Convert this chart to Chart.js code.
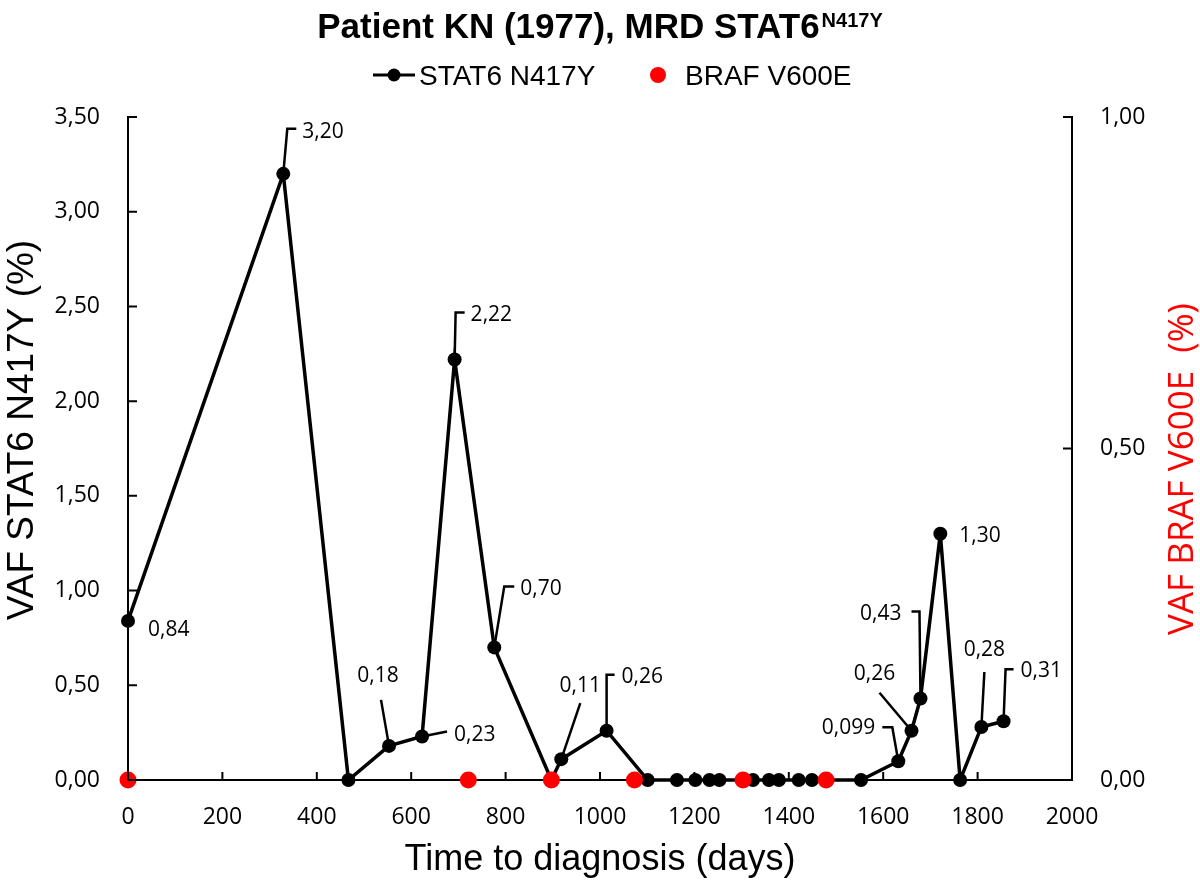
<!DOCTYPE html>
<html>
<head>
<meta charset="utf-8">
<script src="https://cdn.jsdelivr.net/npm/chart.js@4.4.1/dist/chart.umd.min.js"></script>
<style>
  html, body { margin: 0; padding: 0; background: #fff; }
  #wrap { width: 1200px; height: 885px; }
</style>
</head>
<body>
<div id="wrap"><canvas id="c" width="1200" height="885"></canvas></div>
<script>
// ---- data ----
const stat6Days = [0, 329, 467, 553, 623, 692, 776, 897, 918, 1014, 1101, 1163, 1202, 1232, 1253, 1324, 1358, 1379, 1421, 1449, 1553, 1632, 1660, 1679, 1721, 1763, 1808, 1855];
const stat6Vaf  = [0.84, 3.20, 0, 0.18, 0.23, 2.22, 0.70, 0, 0.11, 0.26, 0, 0, 0, 0, 0, 0, 0, 0, 0, 0, 0, 0.099, 0.26, 0.43, 1.30, 0, 0.28, 0.31];
const brafDays  = [0, 721, 897, 1073, 1303, 1479];
const brafVaf   = [0, 0, 0, 0, 0, 0];
const xTicks    = [0, 200, 400, 600, 800, 1000, 1200, 1400, 1600, 1800, 2000];
const yTicks    = [0, 0.5, 1.0, 1.5, 2.0, 2.5, 3.0, 3.5];
const y2Ticks   = [0, 0.5, 1.0];
const titleMain = 'Patient KN (1977), MRD STAT6';
const titleSup  = 'N417Y';
const seriesNames = ['STAT6 N417Y', 'BRAF V600E'];
const xTitle = 'Time to diagnosis (days)';
const yTitle = 'VAF STAT6 N417Y (%)';
const y2Title = 'VAF BRAF V600E  (%)';

// ---- label layout (pixel offsets from each point; style only) ----
const labelLayout = {
  0:  { dx: 20, dy: 9, align: 'left' },
  1:  { lead: [[0,0],[4,-45],[13,-45]], dx: 19, dy: -42, align: 'left' },
  3:  { lead: [[0,0],[-8,-46]], dx: -11, dy: -70, align: 'center' },
  4:  { lead: [[0,0],[25,-5]], dx: 32, dy: -1, align: 'left' },
  5:  { lead: [[0,0],[1,-47],[10,-47]], dx: 16, dy: -44, align: 'left' },
  6:  { lead: [[0,0],[10,-61],[20,-61]], dx: 26, dy: -58, align: 'left' },
  8:  { lead: [[0,0],[19,-56]], dx: 19, dy: -73, align: 'center' },
  9:  { lead: [[0,0],[0,-56],[8,-56]], dx: 15, dy: -54, align: 'left' },
  21: { lead: [[0,0],[-6,-34],[-16,-34]], dx: -23, dy: -33, align: 'right' },
  22: { lead: [[0,0],[-32,-38]], dx: -37, dy: -57, align: 'center' },
  23: { lead: [[0,0],[-1,-87],[-9,-87]], dx: -19, dy: -85, align: 'right' },
  24: { dx: 19, dy: 2, align: 'left' },
  26: { lead: [[0,0],[3,-55]], dx: 3, dy: -77, align: 'center' },
  27: { lead: [[0,0],[2,-52],[10,-52]], dx: 17, dy: -50, align: 'left' }
};

function fmt(v) {
  return v.toFixed(v > 0 && v < 0.1 ? 3 : 2).replace('.', ',');
}

const tickFont = { family: 'Open Sans', size: 23 };

const decor = {
  id: 'decor',
  afterDatasetsDraw(chart) {
    const ctx = chart.ctx;
    const dsIndex = chart.data.datasets.findIndex(d => d.label === seriesNames[0]);
    const meta = chart.getDatasetMeta(dsIndex);
    ctx.save();
    ctx.strokeStyle = '#000';
    ctx.fillStyle = '#000';
    ctx.lineWidth = 2.5;
    ctx.font = '21px "Open Sans"';
    ctx.textBaseline = 'middle';
    Object.keys(labelLayout).forEach(k => {
      const i = +k, L = labelLayout[k];
      const p = meta.data[i];
      if (!p) return;
      if (L.lead) {
        ctx.beginPath();
        L.lead.forEach((q, j) => {
          if (j === 0) ctx.moveTo(p.x + q[0], p.y + q[1]);
          else ctx.lineTo(p.x + q[0], p.y + q[1]);
        });
        ctx.stroke();
      }
      ctx.textAlign = L.align;
      ctx.fillText(fmt(stat6Vaf[i]), p.x + L.dx, p.y + L.dy);
    });
    ctx.restore();
  },
  afterDraw(chart) {
    const ctx = chart.ctx;
    const a = chart.chartArea;
    const sx = chart.scales.x, sy = chart.scales.y, sy2 = chart.scales.y2;
    ctx.save();
    // inward tick marks
    ctx.strokeStyle = '#000';
    ctx.lineWidth = 2;
    ctx.beginPath();
    xTicks.forEach(v => { const x = sx.getPixelForValue(v); ctx.moveTo(x, a.bottom); ctx.lineTo(x, a.bottom - 8); });
    yTicks.forEach(v => { const y = sy.getPixelForValue(v); ctx.moveTo(a.left, y); ctx.lineTo(a.left + 9, y); });
    y2Ticks.forEach(v => { const y = sy2.getPixelForValue(v); ctx.moveTo(a.right, y); ctx.lineTo(a.right - 9, y); });
    ctx.stroke();

    // title
    ctx.fillStyle = '#000';
    ctx.textBaseline = 'alphabetic';
    ctx.textAlign = 'left';
    const fMain = 'bold 35px "Liberation Sans"';
    const fSup = 'bold 20px "Liberation Sans"';
    ctx.font = fMain; const w1 = ctx.measureText(titleMain).width;
    ctx.font = fSup; const w2 = ctx.measureText(titleSup).width;
    const tx = 600 - (w1 + w2 + 2) / 2;
    ctx.font = fMain; ctx.fillText(titleMain, tx, 38);
    ctx.font = fSup; ctx.fillText(titleSup, tx + w1 + 2, 27);

    // legend
    ctx.lineWidth = 3;
    ctx.beginPath(); ctx.moveTo(373, 75); ctx.lineTo(415, 75); ctx.stroke();
    ctx.beginPath(); ctx.arc(394, 75, 6.5, 0, Math.PI * 2); ctx.fill();
    ctx.font = '28px "Liberation Sans"';
    ctx.fillText(seriesNames[0], 419, 85);
    ctx.fillStyle = '#ff0000';
    ctx.beginPath(); ctx.arc(658, 75, 8, 0, Math.PI * 2); ctx.fill();
    ctx.fillStyle = '#000';
    ctx.fillText(seriesNames[1], 685, 85);

    // x title
    ctx.textAlign = 'center';
    ctx.font = '36px "Liberation Sans"';
    ctx.fillText(xTitle, 600, 870);

    // left y title
    ctx.save();
    ctx.translate(33, 430);
    ctx.rotate(-Math.PI / 2);
    ctx.font = '37px "Liberation Sans"';
    ctx.fillText(yTitle, 0, 0);
    ctx.restore();

    // right y title
    ctx.save();
    ctx.translate(1193, 469);
    ctx.rotate(-Math.PI / 2);
    ctx.font = '35px "Open Sans"';
    ctx.fillStyle = '#ff0000';
    ctx.fillText(y2Title, 0, 0);
    ctx.restore();

    ctx.restore();
  }
};

new Chart(document.getElementById('c'), {
  type: 'scatter',
  data: {
    datasets: [
      {
        label: seriesNames[1],
        data: brafDays.map((d, i) => ({ x: d, y: brafVaf[i] })),
        yAxisID: 'y2',
        showLine: false,
        pointRadius: 8.5,
        pointHoverRadius: 8.5,
        pointBackgroundColor: '#ff0000',
        pointBorderWidth: 0,
        backgroundColor: '#ff0000',
        clip: false,
        order: 0
      },
      {
        label: seriesNames[0],
        data: stat6Days.map((d, i) => ({ x: d, y: stat6Vaf[i] })),
        yAxisID: 'y',
        showLine: true,
        borderColor: '#000',
        borderWidth: 3.5,
        pointRadius: 7,
        pointHoverRadius: 7,
        pointBackgroundColor: '#000',
        pointBorderWidth: 0,
        backgroundColor: '#000',
        tension: 0,
        clip: false,
        order: 1
      }
    ]
  },
  options: {
    responsive: false,
    animation: false,
    devicePixelRatio: 1,
    layout: { padding: { top: 117, left: 0, right: 0, bottom: 0 } },
    plugins: { legend: { display: false }, title: { display: false }, tooltip: { enabled: false } },
    scales: {
      x: {
        type: 'linear', min: 0, max: 2000,
        afterBuildTicks: s => { s.ticks = xTicks.map(v => ({ value: v })); },
        afterFit: s => { s.height = 105; },
        ticks: { font: tickFont, color: '#000', padding: 24, maxRotation: 0, autoSkip: false, callback: v => String(v) },
        grid: { display: false, drawTicks: false },
        border: { display: true, color: '#000', width: 2 }
      },
      y: {
        position: 'left', min: 0, max: 3.5,
        afterBuildTicks: s => { s.ticks = yTicks.map(v => ({ value: v })); },
        afterFit: s => { s.width = 128; },
        ticks: { font: tickFont, color: '#000', padding: 28, callback: v => v.toFixed(2).replace('.', ',') },
        grid: { display: false, drawTicks: false },
        border: { display: true, color: '#000', width: 2 }
      },
      y2: {
        position: 'right', min: 0, max: 1,
        afterBuildTicks: s => { s.ticks = y2Ticks.map(v => ({ value: v })); },
        afterFit: s => { s.width = 128; },
        ticks: { font: tickFont, color: '#000', padding: 28, callback: v => v.toFixed(2).replace('.', ',') },
        grid: { display: false, drawTicks: false },
        border: { display: true, color: '#000', width: 2 }
      }
    }
  },
  plugins: [decor]
});
</script>
</body>
</html>
